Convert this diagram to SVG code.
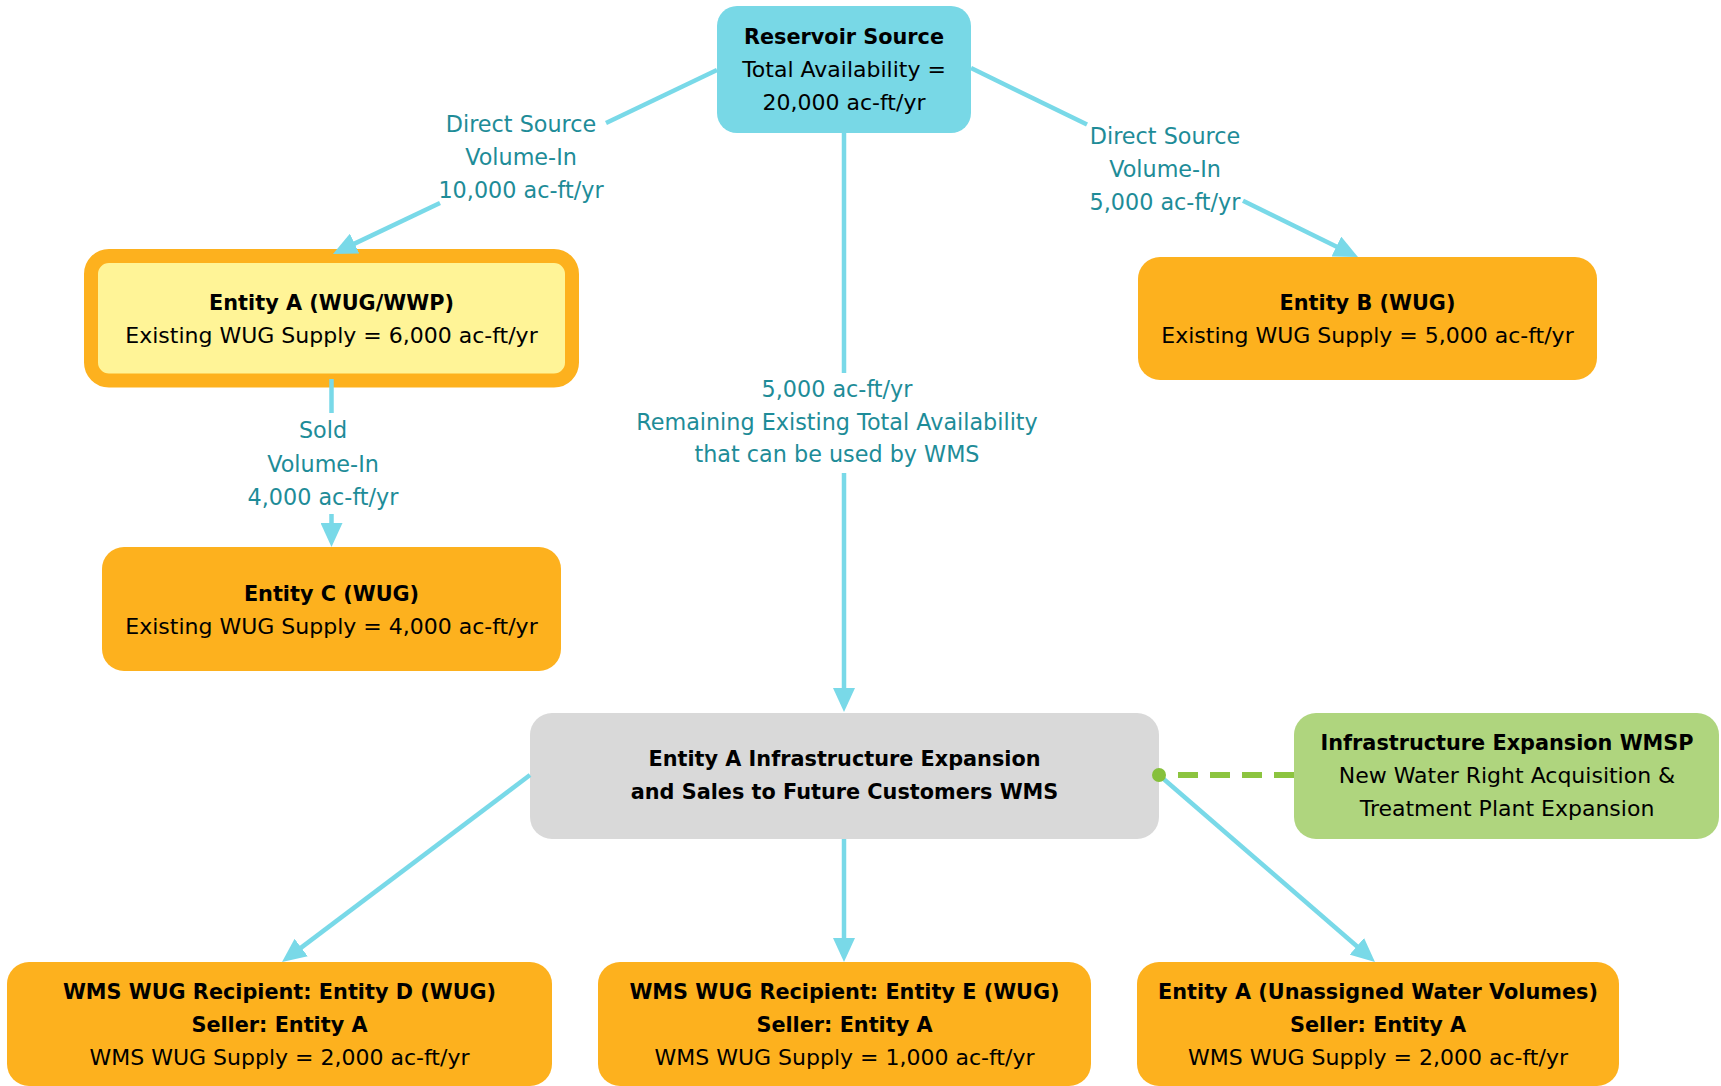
<svg xmlns="http://www.w3.org/2000/svg" width="1721" height="1086" viewBox="0 0 1721 1086">
<defs>
<style>
text{font-family:"DejaVu Sans","Liberation Sans",sans-serif;text-anchor:middle;}
.b{font-weight:bold;font-size:20.8px;fill:#000;}
.r{font-size:22px;fill:#000;}
.lbl{font-size:22.3px;fill:#1E8C98;}
.orange{fill:#FDB11E;}
.con{stroke:#79D9E8;stroke-width:4.5;fill:none;}
.arr{stroke:#79D9E8;stroke-width:4.5;fill:none;marker-end:url(#ah);}
</style>
<marker id="ah" markerUnits="userSpaceOnUse" markerWidth="24" markerHeight="22" viewBox="0 0 24 22" refX="10" refY="11" orient="auto">
<path d="M0,0 L24,11 L0,22 z" fill="#79D9E8"/>
</marker>
</defs>
<rect width="1721" height="1086" fill="#fff"/>

<g id="reservoir">
<rect x="717" y="6" width="254" height="127" rx="20" fill="#78D8E6"/>
<text class="b" x="844" y="44">Reservoir Source</text>
<text class="r" x="844" y="77">Total Availability =</text>
<text class="r" x="844" y="110">20,000 ac-ft/yr</text>
</g>

<g id="entityA">
<rect x="91" y="256" width="481" height="124.5" rx="18" fill="#FFF497" stroke="#FDB11E" stroke-width="14"/>
<text class="b" x="331.5" y="310">Entity A (WUG/WWP)</text>
<text class="r" x="331.5" y="343">Existing WUG Supply = 6,000 ac-ft/yr</text>
</g>

<g id="entityB">
<rect class="orange" x="1138" y="257" width="459" height="123" rx="22"/>
<text class="b" x="1367.5" y="310">Entity B (WUG)</text>
<text class="r" x="1367.5" y="343">Existing WUG Supply = 5,000 ac-ft/yr</text>
</g>

<g id="entityC">
<rect class="orange" x="102" y="547" width="459" height="124" rx="22"/>
<text class="b" x="331.5" y="601">Entity C (WUG)</text>
<text class="r" x="331.5" y="634">Existing WUG Supply = 4,000 ac-ft/yr</text>
</g>

<g id="wms">
<rect x="530" y="713" width="629" height="126" rx="22" fill="#D9D9D9"/>
<text class="b" x="844.5" y="766">Entity A Infrastructure Expansion</text>
<text class="b" x="844.5" y="799">and Sales to Future Customers WMS</text>
</g>

<g id="wmsp">
<rect x="1294" y="713" width="425" height="126" rx="22" fill="#AFD57E"/>
<text class="b" x="1507" y="750">Infrastructure Expansion WMSP</text>
<text class="r" x="1507" y="783">New Water Right Acquisition &amp;</text>
<text class="r" x="1507" y="816">Treatment Plant Expansion</text>
</g>

<g id="entityD">
<rect class="orange" x="7" y="962" width="545" height="124" rx="22"/>
<text class="b" x="279.5" y="999">WMS WUG Recipient: Entity D (WUG)</text>
<text class="b" x="279.5" y="1032">Seller: Entity A</text>
<text class="r" x="279.5" y="1065">WMS WUG Supply = 2,000 ac-ft/yr</text>
</g>

<g id="entityE">
<rect class="orange" x="598" y="962" width="493" height="124" rx="22"/>
<text class="b" x="844.5" y="999">WMS WUG Recipient: Entity E (WUG)</text>
<text class="b" x="844.5" y="1032">Seller: Entity A</text>
<text class="r" x="844.5" y="1065">WMS WUG Supply = 1,000 ac-ft/yr</text>
</g>

<g id="entityAUnassigned">
<rect class="orange" x="1137" y="962" width="482" height="124" rx="22"/>
<text class="b" x="1378" y="999">Entity A (Unassigned Water Volumes)</text>
<text class="b" x="1378" y="1032">Seller: Entity A</text>
<text class="r" x="1378" y="1065">WMS WUG Supply = 2,000 ac-ft/yr</text>
</g>

<g id="connectors">
<line class="con" x1="717" y1="70" x2="606" y2="123"/>
<line class="arr" x1="440" y1="203" x2="345.6" y2="247.9"/>
<text class="lbl" x="521" y="132">Direct Source</text>
<text class="lbl" x="521" y="165">Volume-In</text>
<text class="lbl" x="521" y="198">10,000 ac-ft/yr</text>

<line class="con" x1="971" y1="68" x2="1087" y2="124.6"/>
<line class="arr" x1="1243" y1="200.8" x2="1345.4" y2="250.9"/>
<text class="lbl" x="1165" y="144">Direct Source</text>
<text class="lbl" x="1165" y="177">Volume-In</text>
<text class="lbl" x="1165" y="210">5,000 ac-ft/yr</text>

<line class="con" x1="844" y1="133" x2="844" y2="373"/>
<line class="arr" x1="844" y1="473" x2="844" y2="698"/>
<text class="lbl" x="837" y="397">5,000 ac-ft/yr</text>
<text class="lbl" x="837" y="430">Remaining Existing Total Availability</text>
<text class="lbl" x="837" y="462">that can be used by WMS</text>

<line class="con" x1="331.5" y1="379" x2="331.5" y2="413"/>
<line class="arr" x1="331.5" y1="514" x2="331.5" y2="533"/>
<text class="lbl" x="323" y="438">Sold</text>
<text class="lbl" x="323" y="472">Volume-In</text>
<text class="lbl" x="323" y="505">4,000 ac-ft/yr</text>

<line class="arr" x1="530" y1="775" x2="293.2" y2="953.6"/>
<line class="arr" x1="844" y1="839" x2="844" y2="948"/>
<line class="arr" x1="1159" y1="775" x2="1364.4" y2="952.8"/>

<line x1="1294" y1="775" x2="1166" y2="775" stroke="#8CC43F" stroke-width="6" stroke-dasharray="20 12"/>
<circle cx="1159" cy="775" r="7" fill="#86C03C"/>
</g>
</svg>
